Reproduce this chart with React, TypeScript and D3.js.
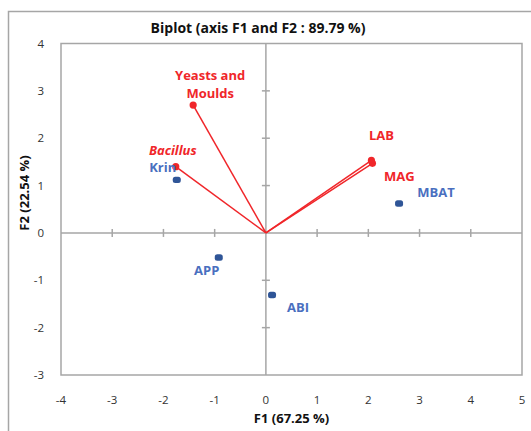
import React from 'react';
import { scaleLinear, range } from 'd3';

const variables = ['Yeasts and Moulds', 'Bacillus', 'LAB', 'MAG'];
const varF1 = [-1.42, -1.76, 2.06, 2.08];
const varF2 = [2.7, 1.4, 1.53, 1.47];

const observations = ['Krin', 'MBAT', 'APP', 'ABI'];
const obsF1 = [-1.74, 2.6, -0.92, 0.12];
const obsF2 = [1.12, 0.62, -0.52, -1.31];

const xTicks = range(-4, 6);
const yTicks = range(-3, 5);

const RED = '#f0262a';
const BLUE = '#4a6fbf';
const GRID = '#a6a6a6';
const FONT = '"Open Sans", "Liberation Sans", sans-serif';

export default function App() {
  const width = 531;
  const height = 431;
  const margin = { top: 43.5, right: 9, bottom: 56, left: 61 };

  const x = scaleLinear().domain([-4, 5]).range([margin.left, width - margin.right]);
  const y = scaleLinear().domain([-3, 4]).range([height - margin.bottom, margin.top]);

  // label placement relative to each mark (pixels)
  const varLabels = [
    { dx: 17, dy: -25, lines: ['Yeasts and', 'Moulds'], italic: false },
    { dx: -3, dy: -12, lines: ['Bacillus'], italic: true },
    { dx: 10, dy: -20, lines: ['LAB'], italic: false },
    { dx: 27, dy: 18, lines: ['MAG'], italic: false },
  ];
  const obsLabels = [
    { dx: -14, dy: -8 },
    { dx: 37, dy: -7 },
    { dx: -12, dy: 17 },
    { dx: 26, dy: 17 },
  ];

  return (
    <svg width={width} height={height} style={{ position: 'absolute', left: 0, top: 0 }}>
      <rect width={width} height={height} fill="#fff" />
      {/* outer chart frame */}
      <path d={`M8.5,${height} V11.5 H${width}`} fill="none" stroke={GRID} strokeWidth={1.5} />

      <text x={258} y={33} textAnchor="middle" fontFamily={FONT} fontWeight="bold" fontSize={14} fill="#111">
        Biplot (axis F1 and F2 : 89.79 %)
      </text>

      {/* plot area */}
      <rect
        x={x(-4)}
        y={y(4)}
        width={x(5) - x(-4)}
        height={y(-3) - y(4)}
        fill="none"
        stroke={GRID}
        strokeWidth={1.5}
      />
      <line x1={x(-4)} x2={x(5)} y1={y(0)} y2={y(0)} stroke={GRID} strokeWidth={1.5} />
      <line x1={x(0)} x2={x(0)} y1={y(4)} y2={y(-3)} stroke={GRID} strokeWidth={1.5} />
      {xTicks
        .filter((t) => t !== 0 && t !== -4 && t !== 5)
        .map((t) => (
          <line key={'xt' + t} x1={x(t)} x2={x(t)} y1={y(0) - 4} y2={y(0) + 4} stroke={GRID} strokeWidth={1.5} />
        ))}
      {yTicks
        .filter((t) => t !== 0 && t !== -3 && t !== 4)
        .map((t) => (
          <line key={'yt' + t} x1={x(0) - 4} x2={x(0) + 4} y1={y(t)} y2={y(t)} stroke={GRID} strokeWidth={1.5} />
        ))}

      {/* tick labels */}
      {xTicks.map((t) => (
        <text key={'xl' + t} x={x(t)} y={404} textAnchor="middle" fontFamily={FONT} fontSize={11.5} fill="#333">
          {t}
        </text>
      ))}
      {yTicks.map((t) => (
        <text key={'yl' + t} x={44} y={y(t) + 4} textAnchor="end" fontFamily={FONT} fontSize={11.5} fill="#333">
          {t}
        </text>
      ))}

      <text x={x(0.5)} y={423} textAnchor="middle" fontFamily={FONT} fontWeight="bold" fontSize={13} fill="#111">
        F1 (67.25 %)
      </text>
      <text
        transform={`translate(29,193) rotate(-90)`}
        textAnchor="middle"
        fontFamily={FONT}
        fontWeight="bold"
        fontSize={13}
        fill="#111"
      >
        F2 (22.54 %)
      </text>

      {/* variable vectors */}
      {variables.map((v, i) => (
        <g key={v}>
          <line x1={x(0)} y1={y(0)} x2={x(varF1[i])} y2={y(varF2[i])} stroke={RED} strokeWidth={1.5} />
          <circle cx={x(varF1[i])} cy={y(varF2[i])} r={3.6} fill={RED} />
        </g>
      ))}
      {variables.map((v, i) => (
        <text
          key={v + 'l'}
          x={x(varF1[i]) + varLabels[i].dx}
          y={y(varF2[i]) + varLabels[i].dy}
          textAnchor="middle"
          fontFamily={FONT}
          fontWeight="bold"
          fontStyle={varLabels[i].italic ? 'italic' : 'normal'}
          fontSize={13}
          fill={RED}
        >
          {varLabels[i].lines.map((ln, j) => (
            <tspan key={j} x={x(varF1[i]) + varLabels[i].dx} dy={j === 0 ? 0 : 18}>
              {ln}
            </tspan>
          ))}
        </text>
      ))}

      {/* observations */}
      {observations.map((o, i) => (
        <g key={o}>
          <rect
            x={x(obsF1[i]) - 4}
            y={y(obsF2[i]) - 3.2}
            width={8}
            height={6.4}
            rx={2.5}
            fill="#2f5597"
          />
          <text
            x={x(obsF1[i]) + obsLabels[i].dx}
            y={y(obsF2[i]) + obsLabels[i].dy}
            textAnchor="middle"
            fontFamily={FONT}
            fontWeight="bold"
            fontSize={13}
            fill={BLUE}
          >
            {o}
          </text>
        </g>
      ))}
    </svg>
  );
}
